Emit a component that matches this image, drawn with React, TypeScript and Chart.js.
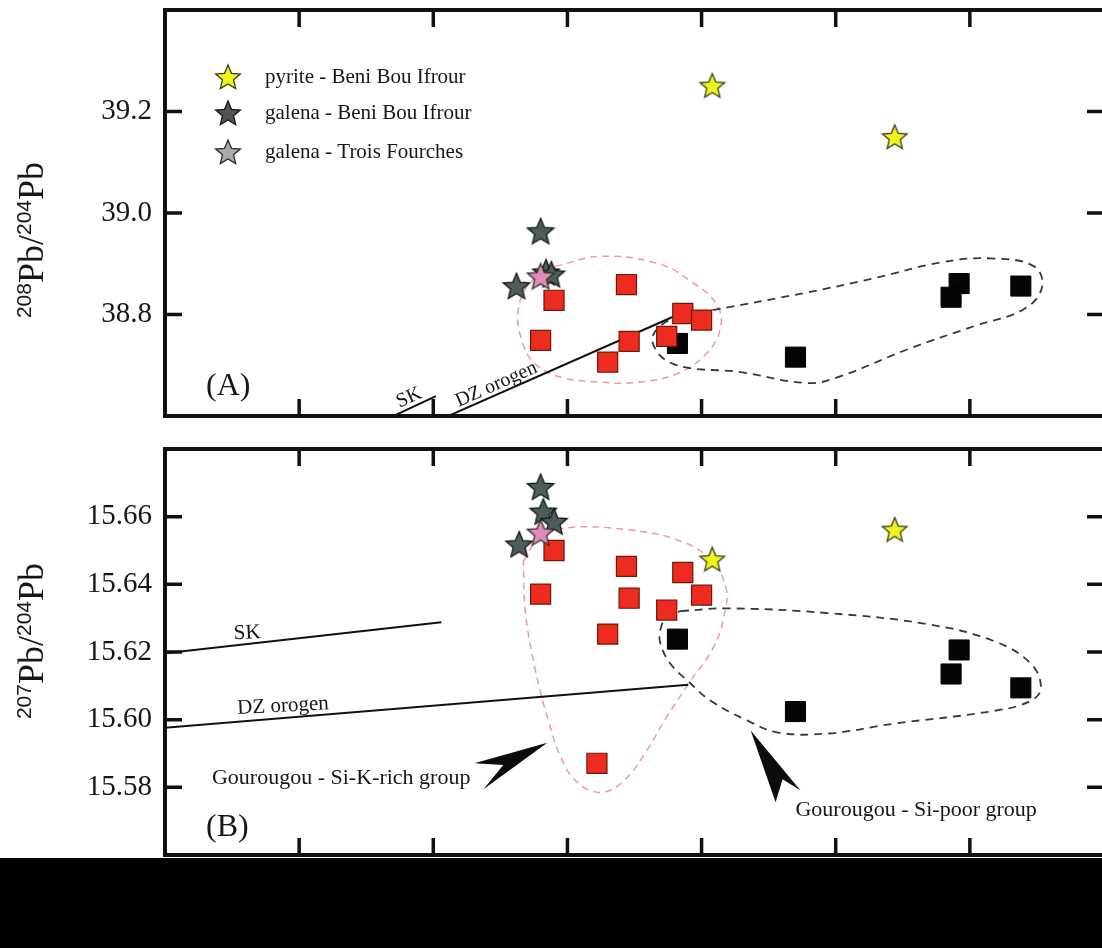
import React, { useEffect, useRef } from 'react';
import { Chart, registerables } from 'chart.js';
Chart.register(...registerables);

// ---------- shared x axis (206Pb/204Pb, labels hidden in the reference) ----------
const X_MIN = 18.7;
const X_MAX = 19.05;
const X_STEP = 0.05;

// ---------- Panel A : 208Pb/204Pb ----------
const pyriteA = [[18.904, 39.251], [18.972, 39.15]];
const galenaBBI_A = [[18.84, 38.964], [18.831, 38.856], [18.842, 38.883], [18.844, 38.879]];
const galenaTF_A = [[18.84, 38.875]];
const siKRichA = [[18.845, 38.828], [18.872, 38.859], [18.84, 38.749], [18.873, 38.747], [18.865, 38.706], [18.893, 38.802], [18.9, 38.789], [18.887, 38.757]];
const siPoorA = [[18.891, 38.743], [18.935, 38.716], [18.996, 38.861], [18.993, 38.834], [19.019, 38.856]];
const skLineA = [[18.777, 38.58], [18.801, 38.639]];
const dzLineA = [[18.797, 38.58], [18.893, 38.804]];
const envSiKA = [[18.8455, 38.8948], [18.8623, 38.9145], [18.8836, 38.9007], [18.8966, 38.8634], [18.9056, 38.8201], [18.9071, 38.7749], [18.9026, 38.7278], [18.8922, 38.6865], [18.8772, 38.6668], [18.8623, 38.6668], [18.8474, 38.6767], [18.8381, 38.7022], [18.8332, 38.7455], [18.8317, 38.8103], [18.8362, 38.8634], [18.8455, 38.8948]];
const envSiPoorA = [[18.9041, 38.8084], [18.9396, 38.8437], [18.9642, 38.8713], [18.9892, 38.9027], [19.0078, 38.9106], [19.0239, 38.8948], [19.0269, 38.8536], [19.0201, 38.8103], [19.0015, 38.7769], [18.9769, 38.7317], [18.9519, 38.6786], [18.9396, 38.6649], [18.9146, 38.6865], [18.8896, 38.7022], [18.8817, 38.7455], [18.8854, 38.7808], [18.8959, 38.8005], [18.9041, 38.8084]];
const yTicksA = { min: 38.6, max: 39.4, step: 0.2, decimals: 1 };

// ---------- Panel B : 207Pb/204Pb ----------
const pyriteB = [[18.904, 15.6474], [18.972, 15.6562]];
const galenaBBI_B = [[18.84, 15.6688], [18.841, 15.6615], [18.845, 15.6585], [18.832, 15.6518]];
const galenaTF_B = [[18.84, 15.6553]];
const siKRichB = [[18.845, 15.65], [18.872, 15.6453], [18.893, 15.6435], [18.84, 15.6371], [18.873, 15.6359], [18.9, 15.6368], [18.887, 15.6324], [18.865, 15.6253], [18.861, 15.5871]];
const siPoorB = [[18.891, 15.6238], [18.996, 15.6206], [18.993, 15.6135], [19.019, 15.6094], [18.935, 15.6024]];
const skLineB = [[18.7, 15.6196], [18.803, 15.6288]];
const dzLineB = [[18.7, 15.5976], [18.895, 15.6103]];
const envSiKB = [[18.8336, 15.6468], [18.8399, 15.6541], [18.8511, 15.6568], [18.8716, 15.6562], [18.8896, 15.6535], [18.9022, 15.6482], [18.909, 15.6394], [18.9082, 15.63], [18.9041, 15.6209], [18.8959, 15.6115], [18.8866, 15.6003], [18.8791, 15.5903], [18.8705, 15.5815], [18.8623, 15.5785], [18.8541, 15.5812], [18.8481, 15.5879], [18.8429, 15.5997], [18.8381, 15.6144], [18.8343, 15.6321], [18.8336, 15.6468]];
const envSiPoorB = [[18.8922, 15.6321], [18.9097, 15.6329], [18.947, 15.6315], [18.9843, 15.6282], [19.009, 15.6232], [19.0228, 15.6165], [19.0265, 15.6094], [19.0228, 15.6056], [19.009, 15.6026], [18.9716, 15.5988], [18.947, 15.5959], [18.9284, 15.5962], [18.9172, 15.5997], [18.9034, 15.6056], [18.8948, 15.6115], [18.8884, 15.6165], [18.8847, 15.6224], [18.8847, 15.6268], [18.8873, 15.6306], [18.8922, 15.6321]];
const arrowSiKB = [[18.8425, 15.5932], [18.8153, 15.5871], [18.8261, 15.5866], [18.8187, 15.5794]];
const arrowSiPoorB = [[18.9183, 15.5968], [18.9369, 15.5791], [18.9302, 15.5824], [18.9276, 15.5756]];
const yTicksB = { min: 15.56, max: 15.68, step: 0.02, decimals: 2 };

// ---------- text ----------
const legendLabels = ['pyrite - Beni Bou Ifrour', 'galena - Beni Bou Ifrour', 'galena - Trois Fourches'];
const notesA = [
  { text: 'SK', x: 18.791, y: 38.636, size: 20, rot: -24, align: 'center' },
  { text: 'DZ orogen', x: 18.8235, y: 38.662, size: 20, rot: -24, align: 'center' },
];
const notesB = [
  { text: 'SK', x: 18.7306, y: 15.6256, size: 21, rot: -3, align: 'center' },
  { text: 'DZ orogen', x: 18.744, y: 15.604, size: 21, rot: -3, align: 'center' },
  { text: 'Gourougou - Si-K-rich group', x: 18.7175, y: 15.5826, size: 22, rot: 0, align: 'left' },
  { text: 'Gourougou - Si-poor group', x: 18.935, y: 15.5732, size: 22, rot: 0, align: 'left' },
];

const SERIF = '"Liberation Serif", "Times New Roman", serif';
const SANS = '"Liberation Sans", Arial, sans-serif';
const INK = '#161616';

function makeStar(fill: string, stroke: string, r: number): HTMLCanvasElement {
  const size = Math.ceil(r * 2 + 4);
  const c = document.createElement('canvas');
  c.width = size;
  c.height = size;
  const ctx = c.getContext('2d')!;
  const cx = size / 2;
  const cy = size / 2 + r * 0.08;
  ctx.beginPath();
  for (let i = 0; i < 10; i++) {
    const rr = i % 2 === 0 ? r : r * 0.45;
    const a = -Math.PI / 2 + (i * Math.PI) / 5;
    const px = cx + rr * Math.cos(a);
    const py = cy + rr * Math.sin(a);
    if (i === 0) ctx.moveTo(px, py);
    else ctx.lineTo(px, py);
  }
  ctx.closePath();
  ctx.fillStyle = fill;
  ctx.fill();
  ctx.lineWidth = 1.3;
  ctx.strokeStyle = stroke;
  ctx.lineJoin = 'miter';
  ctx.stroke();
  return c;
}

const pts = (arr: number[][]) => arr.map(([x, y]) => ({ x, y }));

function buildChart(canvas: HTMLCanvasElement, panel: any) {
  const yellowStar = makeStar('#eef41e', '#3c3c1a', 13);
  const greyStar = makeStar('#4d5d5d', '#151515', 14);
  const pinkStar = makeStar('#e08cb6', '#2a2a2a', 14);
  const lightStar = makeStar('#a9a9a9', '#2a2a2a', 13);
  const legendYellow = makeStar('#eef41e', '#3c3c1a', 13);
  const legendGrey = makeStar('#505656', '#151515', 13);

  const lineDs = (data: number[][], color: string, width: number, dash: number[], tension: number, order: number) => ({
    data: pts(data),
    showLine: true,
    borderColor: color,
    borderWidth: width,
    borderDash: dash,
    pointRadius: 0,
    pointHoverRadius: 0,
    tension,
    fill: false,
    order,
  });

  const datasets: any[] = [
    lineDs(panel.envSiK, '#f19a9a', 1.5, [7, 5], 0.4, 12),
    lineDs(panel.envSiPoor, '#383838', 1.8, [8, 6], 0.4, 11),
    lineDs(panel.sk, '#111', 2, [], 0, 10),
    lineDs(panel.dz, '#111', 2, [], 0, 9),
    {
      label: 'Gourougou - Si-poor group', data: pts(panel.siPoor), pointStyle: 'rect', pointRadius: 14.2,
      backgroundColor: '#050505', borderColor: '#000', borderWidth: 1, order: 5,
    },
    {
      label: 'Gourougou - Si-K-rich group', data: pts(panel.siKRich), pointStyle: 'rect', pointRadius: 14.2,
      backgroundColor: '#ee2b1f', borderColor: '#6a1a12', borderWidth: 1.2, order: 4,
    },
    { label: legendLabels[0], data: pts(panel.pyrite), pointStyle: yellowStar, pointRadius: 13, order: 3 },
    { label: legendLabels[1], data: pts(panel.galenaBBI), pointStyle: greyStar, pointRadius: 14, order: 2 },
    { label: legendLabels[2], data: pts(panel.galenaTF), pointStyle: pinkStar, pointRadius: 14, order: 1 },
  ];

  const yt = panel.yTicks;
  const near = (a: number, b: number) => Math.abs(a - b) < 1e-6;

  const decor = {
    id: 'decor',
    afterDatasetsDraw(chart: any) {
      const ctx = chart.ctx;
      const xs = chart.scales.x;
      const ys = chart.scales.y;
      const area = chart.chartArea;
      ctx.save();
      ctx.beginPath();
      ctx.rect(area.left, area.top, area.right - area.left, area.bottom - area.top);
      ctx.clip();
      ctx.fillStyle = '#0c0c0c';
      for (const poly of panel.arrows) {
        ctx.beginPath();
        poly.forEach(([x, y]: number[], i: number) => {
          const px = xs.getPixelForValue(x);
          const py = ys.getPixelForValue(y);
          if (i === 0) ctx.moveTo(px, py);
          else ctx.lineTo(px, py);
        });
        ctx.closePath();
        ctx.fill();
      }
      for (const n of panel.notes) {
        ctx.save();
        ctx.translate(xs.getPixelForValue(n.x), ys.getPixelForValue(n.y));
        ctx.rotate((n.rot * Math.PI) / 180);
        ctx.font = `${n.size}px ${SERIF}`;
        ctx.textAlign = n.align;
        ctx.textBaseline = 'middle';
        ctx.fillStyle = INK;
        ctx.fillText(n.text, 0, 0);
        ctx.restore();
      }
      ctx.restore();
    },
    afterDraw(chart: any) {
      const ctx = chart.ctx;
      const xs = chart.scales.x;
      const ys = chart.scales.y;
      const { left, right, top, bottom } = chart.chartArea;
      ctx.save();
      ctx.strokeStyle = '#111';
      ctx.lineWidth = 3.5;
      const TL = 17;
      xs.ticks.forEach((t: any) => {
        if (near(t.value, X_MIN) || near(t.value, X_MAX)) return;
        const px = xs.getPixelForValue(t.value);
        ctx.beginPath();
        ctx.moveTo(px, top);
        ctx.lineTo(px, top + TL);
        ctx.moveTo(px, bottom);
        ctx.lineTo(px, bottom - TL);
        ctx.stroke();
      });
      ys.ticks.forEach((t: any) => {
        if (near(t.value, yt.min) || near(t.value, yt.max)) return;
        const py = ys.getPixelForValue(t.value);
        ctx.beginPath();
        ctx.moveTo(left, py);
        ctx.lineTo(left + TL, py);
        ctx.moveTo(right, py);
        ctx.lineTo(right - TL, py);
        ctx.stroke();
      });
      ctx.lineWidth = 4;
      ctx.strokeRect(left, top, right - left, bottom - top);

      // y title with superscripts
      ctx.save();
      ctx.translate(43, panel.titleCenterY);
      ctx.rotate(-Math.PI / 2);
      const segs = [
        { t: panel.supTop, sup: true },
        { t: 'Pb', sup: false },
        { t: '/', sup: false },
        { t: '204', sup: true },
        { t: 'Pb', sup: false },
      ];
      const fontFor = (s: any) => (s.sup ? `21px ${SANS}` : `36px ${SERIF}`);
      let total = 0;
      segs.forEach((s) => {
        ctx.font = fontFor(s);
        total += ctx.measureText(s.t).width;
      });
      let cx = -total / 2;
      ctx.fillStyle = INK;
      ctx.textBaseline = 'alphabetic';
      ctx.textAlign = 'left';
      segs.forEach((s) => {
        ctx.font = fontFor(s);
        ctx.fillText(s.t, cx, s.sup ? -12 : 0);
        cx += ctx.measureText(s.t).width;
      });
      ctx.restore();

      ctx.font = `32px ${SERIF}`;
      ctx.fillStyle = INK;
      ctx.textAlign = 'left';
      ctx.textBaseline = 'middle';
      ctx.fillText(panel.label, left + 41, bottom - panel.labelOffset);

      if (panel.legend) {
        const stars = [legendYellow, legendGrey, lightStar];
        const rows = [67, 103, 142];
        ctx.font = `21px ${SERIF}`;
        rows.forEach((dy, i) => {
          const s = stars[i];
          ctx.drawImage(s, left + 63 - s.width / 2, top + dy - s.height / 2);
          ctx.fillText(legendLabels[i], left + 100, top + dy);
        });
      }
      ctx.restore();
    },
  };

  return new Chart(canvas, {
    type: 'scatter',
    data: { datasets },
    options: {
      animation: false,
      responsive: false,
      devicePixelRatio: 1,
      layout: { autoPadding: false, padding: { top: panel.padTop, right: 8, left: 0, bottom: 0 } },
      plugins: { legend: { display: false }, tooltip: { enabled: false } },
      scales: {
        x: {
          type: 'linear',
          min: X_MIN,
          max: X_MAX,
          ticks: { display: false, stepSize: X_STEP },
          grid: { display: false, drawTicks: false },
          border: { display: false },
          afterFit: (s: any) => {
            s.height = panel.xAxisH;
            s.paddingLeft = 0;
            s.paddingRight = 0;
            s.paddingTop = 0;
            s.paddingBottom = 0;
          },
        },
        y: {
          type: 'linear',
          min: yt.min,
          max: yt.max,
          ticks: {
            stepSize: yt.step,
            padding: 13,
            color: INK,
            font: { family: SERIF, size: 29 },
            callback: (v: any) => {
              const n = Number(v);
              if (near(n, yt.min) || near(n, yt.max)) return null;
              return n.toFixed(yt.decimals);
            },
          },
          grid: { display: false, drawTicks: false },
          border: { display: false },
          afterFit: (s: any) => {
            s.width = 165;
            s.paddingLeft = 0;
            s.paddingRight = 0;
            s.paddingTop = 0;
            s.paddingBottom = 0;
          },
        },
      },
    } as any,
    plugins: [decor],
  });
}

const panelA = {
  pyrite: pyriteA, galenaBBI: galenaBBI_A, galenaTF: galenaTF_A, siKRich: siKRichA, siPoor: siPoorA,
  sk: skLineA, dz: dzLineA, envSiK: envSiKA, envSiPoor: envSiPoorA, arrows: [], notes: notesA,
  yTicks: yTicksA, padTop: 10, xAxisH: 14, titleCenterY: 240, supTop: '208', label: '(A)', labelOffset: 29, legend: true,
};
const panelB = {
  pyrite: pyriteB, galenaBBI: galenaBBI_B, galenaTF: galenaTF_B, siKRich: siKRichB, siPoor: siPoorB,
  sk: skLineB, dz: dzLineB, envSiK: envSiKB, envSiPoor: envSiPoorB, arrows: [arrowSiKB, arrowSiPoorB], notes: notesB,
  yTicks: yTicksB, padTop: 19, xAxisH: 5, titleCenterY: 211, supTop: '207', label: '(B)', labelOffset: 27, legend: false,
};

export default function App() {
  const refA = useRef<HTMLCanvasElement>(null);
  const refB = useRef<HTMLCanvasElement>(null);
  useEffect(() => {
    const a = buildChart(refA.current!, panelA);
    const b = buildChart(refB.current!, panelB);
    return () => {
      a.destroy();
      b.destroy();
    };
  }, []);
  return (
    <div style={{ position: 'absolute', left: 0, top: 0, width: 1102, height: 948, overflow: 'hidden', background: '#fff' }}>
      <canvas ref={refA} width={1112} height={430} style={{ position: 'absolute', left: 0, top: 0, width: 1112, height: 430 }} />
      <canvas ref={refB} width={1112} height={430} style={{ position: 'absolute', left: 0, top: 430, width: 1112, height: 430 }} />
      <div style={{ position: 'absolute', left: 0, top: 858, width: 1102, height: 90, background: '#000' }} />
    </div>
  );
}
